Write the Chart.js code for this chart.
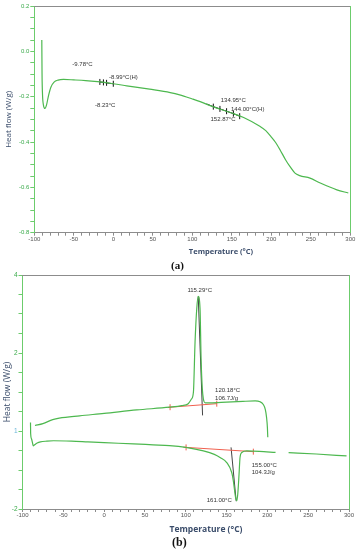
<!DOCTYPE html>
<html>
<head>
<meta charset="utf-8">
<script src="https://cdn.jsdelivr.net/npm/chart.js@4.4.1/dist/chart.umd.min.js"></script>
<style>
  body { margin: 0; width: 358px; height: 550px; background: #fff; position: relative; overflow: hidden; }
  canvas { position: absolute; left: 0; }
  #chartA { top: 0; }
  #chartB { top: 268px; }
  .xtitle { position: absolute; transform: translate(-50%, -50%); white-space: nowrap;
            font-family: "Open Sans", "Liberation Sans", sans-serif; font-weight: bold; color: #3b4d6b; }
  .caption { position: absolute; transform: translateY(-50%); white-space: nowrap;
             font-family: "Liberation Serif", serif; font-weight: bold; color: #111; }
</style>
</head>
<body>
<canvas id="chartA" width="358" height="270"></canvas>
<canvas id="chartB" width="358" height="282"></canvas>
<div class="xtitle" style="left:221px; top:251px; font-size:7.5px;">Temperature (°C)</div>
<div class="caption" style="left:171px; top:265px; font-size:11px;">(a)</div>
<div class="xtitle" style="left:206px; top:528px; font-size:8.5px;">Temperature (°C)</div>
<div class="caption" style="left:172px; top:542px; font-size:12px;">(b)</div>
<script>
//-------------------------------------------------------------------
// data (a): single scan
//-------------------------------------------------------------------
const tempA = [-90.5, -90.2, -89.6, -88.5, -86.5, -84.5, -82, -79, -75, -70, -63, -50, -35, -20, 0,
  17, 46, 72, 84, 100, 110, 126, 150, 165, 186, 193, 200, 205, 211, 218, 224, 230, 236, 249, 262, 283, 297.5];
const heatFlowA = [0.05, -0.10, -0.19, -0.236, -0.252, -0.236, -0.195, -0.158, -0.136, -0.127, -0.124, -0.126, -0.129, -0.134, -0.143,
  -0.152, -0.167, -0.182, -0.192, -0.210, -0.222, -0.244, -0.272, -0.292, -0.332, -0.350, -0.378, -0.400, -0.434, -0.478, -0.510, -0.537, -0.548, -0.559, -0.581, -0.611, -0.625];

// glass transition markers
const markTempA1 = [-17, -12.5, -8.5, -5, 0];
const markFlowA1 = [-0.135, -0.137, -0.139, -0.141, -0.143];
const markTempA2 = [118, 126.6, 135, 143.4, 152, 160];
const markFlowA2 = [-0.232, -0.244, -0.254, -0.264, -0.275, -0.286];

const labelTextA = ['-9.78°C', '-8.99°C(H)', '-8.23°C', '134.95°C', '144.00°C(H)', '152.87°C'];
const labelTempA = [-51.9, -5.4, -23.2, 136, 149, 123];
const labelFlowA = [-0.057, -0.116, -0.239, -0.214, -0.258, -0.298];

//-------------------------------------------------------------------
// data (b): heating + cooling scans
//-------------------------------------------------------------------
const tempBHeat = [-84.7, -75, -63, -55, -30, 0, 40, 80, 95, 103, 107, 109.4, 111.4, 113.5, 115.3, 117.5, 118.8, 120.3, 121.6,
  124, 130, 150, 170, 185, 191, 195, 197.5, 199, 200, 200.5];
const heatFlowBHeat = [0.14, 0.19, 0.29, 0.33, 0.39, 0.45, 0.54, 0.61, 0.65, 0.70, 0.82, 1.0, 2.28, 3.14, 3.45, 3.14, 1.85, 1.08, 0.82,
  0.72, 0.72, 0.74, 0.76, 0.77, 0.75, 0.68, 0.55, 0.35, 0.10, -0.16];

const tempBCool = [-90.2, -90.0, -89.0, -87.5, -86.8, -85.5, -82, -78, -70, -62, -40, -20, 0, 36, 60, 80, 100, 121.6, 135, 142,
  150.2, 156.4, 158.3, 161.1, 162.5, 163.7, 165.3, 166.5, 168.6, 174.8, 190, 210, 218, 226, 260, 297];
const heatFlowBCool = [0.22, -0.07, -0.20, -0.33, -0.38, -0.36, -0.31, -0.28, -0.26, -0.25, -0.26, -0.28, -0.30, -0.33, -0.355, -0.375, -0.42, -0.51, -0.60, -0.68,
  -0.81, -1.07, -1.28, -1.71, -1.79, -1.62, -1.11, -0.68, -0.55, -0.51, -0.52, -0.55, null, -0.555, -0.59, -0.64];

// integration baselines and peak lines
const baseTempB1 = [78, 80.8, 138];
const baseFlowB1 = [0.60, 0.61, 0.70];
const baseTempB2 = [97, 100.4, 182.8];
const baseFlowB2 = [-0.415, -0.42, -0.53];
const peakTempB1 = [115.3, 120.6];
const peakFlowB1 = [3.45, 0.40];
const peakTempB2 = [155.5, 161.8];
const peakFlowB2 = [-0.42, -1.80];

const labelTextB = ['115.29°C', '120.18°C', '106.7J/g', '155.00°C', '104.3J/g', '161.00°C'];
const labelTempB = [102.0, 135.9, 135.9, 180.9, 180.9, 125.7];
const labelFlowB = [3.61, 1.04, 0.85, -0.89, -1.07, -1.78];

// tick labels
const xTickStepMajor = 50;
const yLabelValuesB = [4, 2, 0, -2];
const yLabelTextB = ['4', '2', '1', '-2'];

//-------------------------------------------------------------------
// styling
//-------------------------------------------------------------------
const FONT = '"Liberation Sans", Arial, sans-serif';
const CURVE = '#4db84f';
const AXIS_GREEN = '#6ccc6c';
const TICK_GREEN = '#3aaa4a';
const GREY = '#8c8c8c';

//-------------------------------------------------------------------
// utility
//-------------------------------------------------------------------
function zipPoints(xs, ys) {
  return xs.map((x, i) => ({ x: x, y: ys[i] }));
}

function curveDataset(xs, ys) {
  return {
    data: zipPoints(xs, ys),
    borderColor: CURVE,
    borderWidth: 1.2,
    pointRadius: 0,
    cubicInterpolationMode: 'monotone',
    spanGaps: false
  };
}

function markDataset(xs, ys, color, radii) {
  return {
    data: zipPoints(xs, ys),
    borderColor: color,
    borderWidth: 1,
    pointStyle: 'line',
    pointRotation: 90,
    pointRadius: radii,
    pointBorderColor: color,
    pointBorderWidth: 1,
    tension: 0
  };
}

// draws the little value labels at data coordinates
const textLabelPlugin = {
  id: 'textLabels',
  afterDatasetsDraw(chart, args, opts) {
    const ctx = chart.ctx;
    const xs = chart.scales.x;
    const ys = chart.scales.y;
    ctx.save();
    ctx.font = '6px ' + FONT;
    ctx.fillStyle = '#333';
    ctx.textAlign = 'left';
    ctx.textBaseline = 'middle';
    for (let i = 0; i < opts.text.length; i++) {
      ctx.fillText(opts.text[i], xs.getPixelForValue(opts.xs[i]), ys.getPixelForValue(opts.ys[i]));
    }
    ctx.restore();
  }
};

function buildScales(p) {
  return {
    x: {
      type: 'linear', min: -100, max: 300,
      afterFit: (s) => { s.height = p.xAxisHeight; },
      ticks: {
        stepSize: 10, autoSkip: false, maxRotation: 0, minRotation: 0, padding: 0,
        color: '#555', font: { size: 6, family: FONT },
        callback: (v) => (v % xTickStepMajor === 0 ? String(v) : '')
      },
      grid: { drawOnChartArea: false, tickLength: 3, color: GREY },
      border: { color: GREY, width: 1 }
    },
    y: {
      type: 'linear', min: p.yMin, max: p.yMax,
      afterFit: (s) => { s.width = p.yAxisWidth; },
      ticks: {
        stepSize: p.yStep, autoSkip: false, padding: 1,
        color: p.tickColor, font: { size: p.yFont, family: FONT },
        callback: p.yLabel
      },
      grid: { drawOnChartArea: false, tickLength: 4, color: AXIS_GREEN },
      border: { color: AXIS_GREEN, width: 1 },
      title: {
        display: true, text: 'Heat flow (W/g)', color: '#3b4d6b',
        font: { size: p.titleFont, family: '"Open Sans", ' + FONT },
        padding: { top: p.titlePad, bottom: 0 }
      }
    },
    x2: {
      type: 'linear', position: 'top', min: -100, max: 300,
      afterFit: (s) => { s.height = 0; },
      ticks: { display: false },
      grid: { display: false, drawTicks: false },
      border: { color: GREY, width: 1 }
    },
    y2: {
      type: 'linear', position: 'right', min: p.yMin, max: p.yMax,
      afterFit: (s) => { s.width = 0; },
      ticks: { display: false },
      grid: { display: false, drawTicks: false },
      border: { color: AXIS_GREEN, width: 1 }
    }
  };
}

function makeChart(id, datasets, scales, padding, labels) {
  return new Chart(document.getElementById(id), {
    type: 'line',
    data: { datasets: datasets },
    options: {
      responsive: false,
      animation: false,
      events: [],
      layout: { padding: padding },
      plugins: {
        legend: { display: false },
        tooltip: { enabled: false },
        textLabels: labels
      },
      scales: scales
    },
    plugins: [textLabelPlugin]
  });
}

//-------------------------------------------------------------------
// chart (a)
//-------------------------------------------------------------------
makeChart('chartA', [
    curveDataset(tempA, heatFlowA),
    markDataset(markTempA1, markFlowA1, '#111', [3, 3, 3, 0, 3]),
    markDataset(markTempA2, markFlowA2, '#111', [0, 3, 3, 3, 3, 3])
  ],
  buildScales({
    xAxisHeight: 37.3, yAxisWidth: 34.3, yMin: -0.8, yMax: 0.2, yStep: 0.05, yFont: 6,
    titleFont: 8, titlePad: 3.5, tickColor: TICK_GREEN,
    yLabel: (v) => (Math.round(v * 100) % 20 === 0 ? v.toFixed(1) : '')
  }),
  { left: 0, top: 6, right: 7.7, bottom: 0 },
  { text: labelTextA, xs: labelTempA, ys: labelFlowA }
);

//-------------------------------------------------------------------
// chart (b)
//-------------------------------------------------------------------
makeChart('chartB', [
    curveDataset(tempBHeat, heatFlowBHeat),
    curveDataset(tempBCool, heatFlowBCool),
    markDataset(baseTempB1, baseFlowB1, '#f0604f', [0, 3, 3]),
    markDataset(baseTempB2, baseFlowB2, '#f0604f', [0, 3, 3]),
    markDataset(peakTempB1, peakFlowB1, '#444', [0, 0]),
    markDataset(peakTempB2, peakFlowB2, '#444', [0, 0])
  ],
  buildScales({
    xAxisHeight: 41, yAxisWidth: 22.5, yMin: -2, yMax: 4, yStep: 0.5, yFont: 6.5,
    titleFont: 8.5, titlePad: 2.7,
    tickColor: (ctx) => (ctx.tick && ctx.tick.value === 0 ? '#6ab6d8' : TICK_GREEN),
    yLabel: (v) => {
      const i = yLabelValuesB.indexOf(v);
      return i >= 0 ? yLabelTextB[i] : '';
    }
  }),
  { left: 0, top: 7, right: 9, bottom: 0 },
  { text: labelTextB, xs: labelTempB, ys: labelFlowB }
);
</script>
</body>
</html>
